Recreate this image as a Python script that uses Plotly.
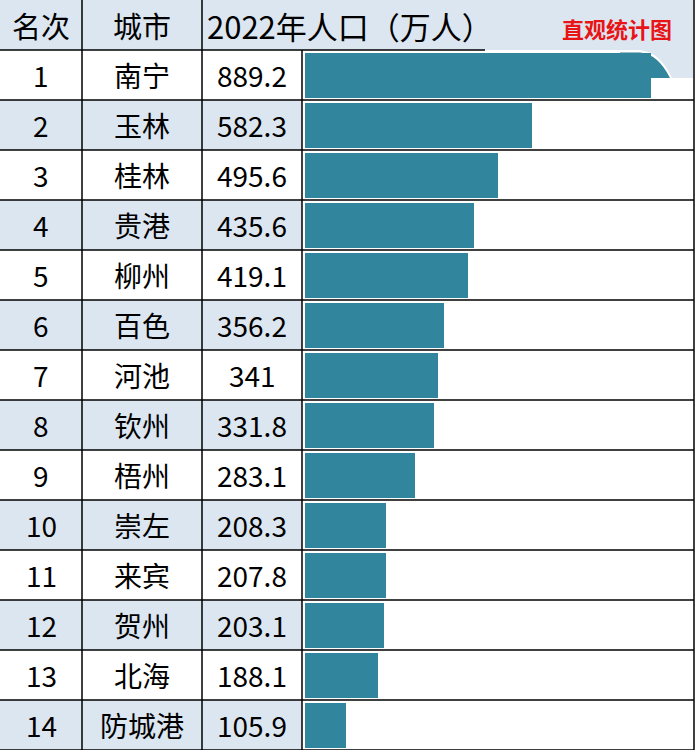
import plotly.graph_objects as go

ranks = list(range(1, 15))
cities = ["南宁", "玉林", "桂林", "贵港", "柳州", "百色", "河池", "钦州", "梧州", "崇左", "来宾", "贺州", "北海", "防城港"]
population = [889.2, 582.3, 495.6, 435.6, 419.1, 356.2, 341, 331.8, 283.1, 208.3, 207.8, 203.1, 188.1, 105.9]
headers = ["名次", "城市", "2022年人口（万人）"]
watermark = "直观统计图"

W, H = 696, 751
FONT = "Noto Sans CJK SC, Microsoft YaHei, sans-serif"
BLUE_BG = "#dce6f1"
BAR = "#31859c"

def px(x):
    return x / W

def py(y):
    return 1 - y / H

fig = go.Figure()
fig.add_trace(go.Bar(
    x=population, y=ranks, orientation="h", width=0.9,
    marker=dict(color=BAR, line=dict(width=0)),
    hoverinfo="skip", showlegend=False,
))

shapes = []
# header background
shapes.append(dict(type="rect", xref="paper", yref="y", x0=0, x1=px(693), y0=-0.5, y1=0.5,
                   fillcolor=BLUE_BG, line=dict(width=0), layer="below"))
# alternating row backgrounds
for r in ranks:
    if r % 2 == 0:
        shapes.append(dict(type="rect", xref="paper", yref="y", x0=0, x1=px(302), y0=r - 0.5, y1=r + 0.5,
                           fillcolor=BLUE_BG, line=dict(width=0), layer="below"))
# page-curl decoration in header
shapes.append(dict(type="path", xref="paper", yref="paper",
                   path=f"M {px(485)},{py(50)} L {px(640)},{py(50)} Q {px(660)},{py(52)} {px(672)},{py(78)} L {px(693)},{py(78)} L {px(693)},{py(50)} Z",
                   fillcolor=BLUE_BG, line=dict(width=0), layer="above"))
shapes.append(dict(type="path", xref="paper", yref="paper",
                   path=f"M {px(620)},{py(52.5)} L {px(640)},{py(52.5)} Q {px(658)},{py(54)} {px(670)},{py(78)} L {px(651)},{py(78)} L {px(651)},{py(97.5)} L {px(620)},{py(97.5)} Z",
                   fillcolor=BAR, line=dict(width=0), layer="above"))
# horizontal lines
shapes.append(dict(type="line", xref="paper", yref="y", x0=0, x1=px(485), y0=0.5, y1=0.5,
                   line=dict(color="black", width=1.5), layer="above"))
for r in ranks:
    shapes.append(dict(type="line", xref="paper", yref="y", x0=0, x1=px(694), y0=r + 0.5, y1=r + 0.5,
                       line=dict(color="black", width=1.5), layer="above"))
# vertical lines
for xv in [82, 202]:
    shapes.append(dict(type="line", xref="paper", yref="y", x0=px(xv), x1=px(xv), y0=-0.5, y1=14.5,
                       line=dict(color="black", width=1.5), layer="above"))
shapes.append(dict(type="line", xref="paper", yref="y", x0=px(302), x1=px(302), y0=0.5, y1=14.5,
                   line=dict(color="black", width=1.5), layer="above"))
shapes.append(dict(type="line", xref="paper", yref="y", x0=px(694), x1=px(694), y0=-0.5, y1=14.5,
                   line=dict(color="black", width=1.5), layer="above"))

annotations = []
fs = 28
for r, c, v in zip(ranks, cities, population):
    annotations.append(dict(x=px(41), y=r, xref="paper", yref="y", text=str(r), showarrow=False,
                            font=dict(family=FONT, size=fs, color="black"), xanchor="center", yanchor="middle"))
    annotations.append(dict(x=px(142), y=r, xref="paper", yref="y", text=c, showarrow=False,
                            font=dict(family=FONT, size=fs, color="black"), xanchor="center", yanchor="middle"))
    annotations.append(dict(x=px(252), y=r, xref="paper", yref="y", text=f"{v:g}", showarrow=False,
                            font=dict(family=FONT, size=fs, color="black"), xanchor="center", yanchor="middle"))
annotations.append(dict(x=px(41), y=0, xref="paper", yref="y", text=headers[0], showarrow=False,
                        font=dict(family=FONT, size=29, color="black"), xanchor="center", yanchor="middle"))
annotations.append(dict(x=px(142), y=0, xref="paper", yref="y", text=headers[1], showarrow=False,
                        font=dict(family=FONT, size=29, color="black"), xanchor="center", yanchor="middle"))
annotations.append(dict(x=px(205), y=0, xref="paper", yref="y", text=headers[2], showarrow=False,
                        font=dict(family=FONT, size=31, color="black"), xanchor="left", yanchor="middle"))
annotations.append(dict(x=px(617), y=py(28), xref="paper", yref="paper", text=f"<b>{watermark}</b>", showarrow=False,
                        font=dict(family=FONT, size=22, color="#e81416"), xanchor="center", yanchor="middle"))

fig.update_layout(
    width=W, height=H,
    margin=dict(l=0, r=0, t=0, b=0),
    paper_bgcolor="white",
    plot_bgcolor="rgba(0,0,0,0)",
    showlegend=False,
    bargap=0,
    xaxis=dict(domain=[px(305), 1], range=[0, 1005], showgrid=False, zeroline=False,
               showticklabels=False, showline=False, fixedrange=True),
    yaxis=dict(domain=[1 / H, 1], range=[14.5, -0.5], showgrid=False, zeroline=False,
               showticklabels=False, showline=False, fixedrange=True),
    shapes=shapes,
    annotations=annotations,
)

fig.write_html("out.html")
